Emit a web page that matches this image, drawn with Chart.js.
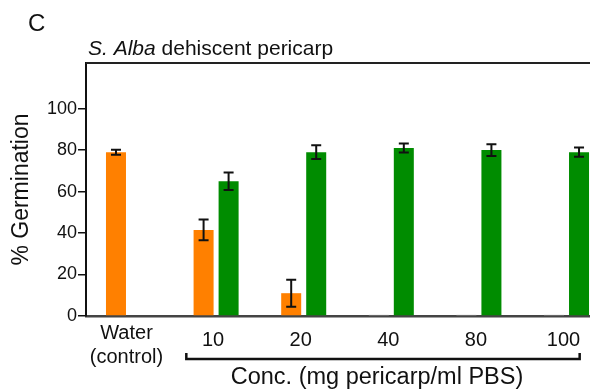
<!DOCTYPE html>
<html>
<head>
<meta charset="utf-8">
<script src="https://cdn.jsdelivr.net/npm/chart.js@4"></script>
<style>
  body { margin: 0; background: #fff; }
  #wrap { width: 590px; height: 392px; }
</style>
</head>
<body>
<div id="wrap"><canvas id="c"></canvas></div>
<script>
// categories (0 = water control, the rest are concentrations)
const catLabels = [["Water", "(control)"], "10", "20", "40", "80", "100"];
const catIndex = [0, 1, 2, 3, 4, 5];

// % germination, orange series (gray stubs where value is ~0)
const orangeValues = [79, 41.5, 11, 0.6, 0.6, 0.6];
const orangeErr = [1.2, 5, 6.5, 0, 0, 0];
// green series
const greenValues = [null, 65, 79, 81, 80, 79];
const greenErr = [0, 4.2, 3.3, 2.2, 2.8, 2.2];

const yTicks = [0, 20, 40, 60, 80, 100];

const FONT = "'Liberation Sans', Arial, sans-serif";
const ORANGE = "#ff8000";
const GREEN = "#008c00";
const STUB = "#cfcfcf";

const orangeColors = orangeValues.map(v => (v < 1 ? STUB : ORANGE));

const errorBars = {
    id: "errorBars",
    afterDatasetsDraw(chart) {
        const ctx = chart.ctx;
        const y = chart.scales.y;
        const errs = [orangeErr, greenErr];
        ctx.save();
        ctx.strokeStyle = "#111";
        ctx.lineWidth = 2;
        chart.data.datasets.forEach((ds, di) => {
            const meta = chart.getDatasetMeta(di);
            meta.data.forEach((bar, i) => {
                const v = ds.data[i].y;
                const e = errs[di][i];
                if (v == null || !e) return;
                const top = y.getPixelForValue(v + e);
                const bot = y.getPixelForValue(v - e);
                ctx.beginPath();
                ctx.moveTo(bar.x, top);
                ctx.lineTo(bar.x, bot);
                ctx.moveTo(bar.x - 5, top);
                ctx.lineTo(bar.x + 5, top);
                ctx.moveTo(bar.x - 5, bot);
                ctx.lineTo(bar.x + 5, bot);
                ctx.stroke();
            });
        });
        ctx.restore();
    }
};

const decorations = {
    id: "decorations",
    afterDraw(chart) {
        const ctx = chart.ctx;
        const area = chart.chartArea;
        const x = chart.scales.x;
        ctx.save();

        // panel letter
        ctx.fillStyle = "#111";
        ctx.textBaseline = "alphabetic";
        ctx.textAlign = "left";
        ctx.font = "24px " + FONT;
        ctx.fillText("C", 28, 31);

        // title with italic species name
        ctx.font = "italic 21px " + FONT;
        ctx.fillText("S. Alba", 88, 55);
        const w = ctx.measureText("S. Alba ").width;
        ctx.font = "21px " + FONT;
        ctx.fillText("dehiscent pericarp", 88 + w, 55);

        // top frame line
        ctx.strokeStyle = "#222";
        ctx.lineWidth = 2;
        ctx.beginPath();
        ctx.moveTo(area.left, area.top);
        ctx.lineTo(area.right, area.top);
        ctx.stroke();

        // x tick labels
        ctx.font = "20px " + FONT;
        ctx.textAlign = "center";
        ctx.textBaseline = "middle";
        catIndex.forEach(i => {
            const px = x.getPixelForValue(i) - (i === 0 ? 2 : 3);
            const lab = catLabels[i];
            if (Array.isArray(lab)) {
                ctx.fillText(lab[0], px, area.bottom + 17);
                ctx.fillText(lab[1], px, area.bottom + 41);
            } else {
                ctx.fillText(lab, px, area.bottom + 24);
            }
        });

        // bracket under the concentrations
        const bl = x.getPixelForValue(1 - 0.34);
        const br = x.getPixelForValue(5 + 0.15);
        const by = area.bottom + 43;
        ctx.strokeStyle = "#111";
        ctx.lineWidth = 2.5;
        ctx.beginPath();
        ctx.moveTo(bl, by - 6);
        ctx.lineTo(bl, by);
        ctx.lineTo(br, by);
        ctx.lineTo(br, by - 6);
        ctx.stroke();

        ctx.font = "23.5px " + FONT;
        ctx.textBaseline = "alphabetic";
        ctx.fillText("Conc. (mg pericarp/ml PBS)", (bl + br) / 2 - 6, area.bottom + 68);
        ctx.restore();
    }
};

new Chart(document.getElementById("c"), {
    type: "bar",
    data: {
        datasets: [
            {
                data: catIndex.map(i => ({ x: i, y: orangeValues[i] })),
                backgroundColor: orangeColors,
                borderWidth: 0,
            },
            {
                data: catIndex.map(i => ({ x: i, y: greenValues[i] })),
                backgroundColor: GREEN,
                borderWidth: 0,
            },
        ],
    },
    plugins: [errorBars, decorations],
    options: {
        responsive: true,
        maintainAspectRatio: false,
        animation: false,
        layout: { padding: { top: 63, left: 0, right: 0, bottom: 0 } },
        datasets: {
            bar: { categoryPercentage: 0.571, barPercentage: 0.8 },
        },
        scales: {
            x: {
                type: "linear",
                offset: false,
                min: -0.485,
                max: 5.268,
                grid: { display: false },
                border: { display: true, color: "#444", width: 2.5 },
                ticks: { display: false },
                afterFit: s => { s.height = 76; },
            },
            y: {
                min: 0,
                max: 122,
                afterBuildTicks: s => { s.ticks = yTicks.map(v => ({ value: v })); },
                afterFit: s => { s.width = 86; },
                grid: { drawOnChartArea: false, tickLength: 8, color: "#111", lineWidth: 1.5 },
                border: { display: true, color: "#111", width: 2 },
                ticks: { color: "#111", padding: 1, font: { family: FONT, size: 18 } },
                title: {
                    display: true,
                    text: "% Germination",
                    color: "#111",
                    padding: { top: 8, bottom: 0 },
                    font: { family: FONT, size: 23 },
                },
            },
        },
        plugins: {
            legend: { display: false },
            tooltip: { enabled: false },
        },
    },
});
</script>
</body>
</html>
